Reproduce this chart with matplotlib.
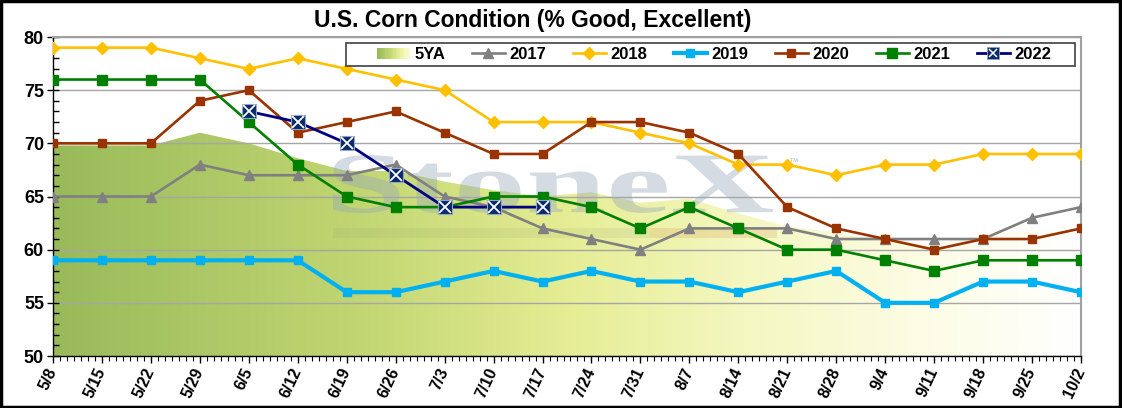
import numpy as np
import matplotlib
matplotlib.use("Agg")
import matplotlib.pyplot as plt
from matplotlib.colors import LinearSegmentedColormap
from matplotlib.patches import Rectangle, PathPatch
from matplotlib.lines import Line2D
from matplotlib.legend_handler import HandlerBase, HandlerTuple
from matplotlib.textpath import TextPath
from matplotlib.font_manager import FontProperties
from matplotlib.transforms import Affine2D

plt.rcParams['font.family'] = ['Liberation Sans', 'DejaVu Sans']

weeks = ["5/8", "5/15", "5/22", "5/29", "6/5", "6/12", "6/19", "6/26", "7/3", "7/10", "7/17",
         "7/24", "7/31", "8/7", "8/14", "8/21", "8/28", "9/4", "9/11", "9/18", "9/25", "10/2"]
five_ya = [69.8, 69.8, 69.8, 71.0, 70.0, 68.6, 67.4, 67.4, 66.4, 65.6, 65.0,
           65.4, 64.4, 64.8, 63.4, 62.2, 61.6, 60.8, 60.4, 61.4, 61.8, 62.0]
y2017 = [65, 65, 65, 68, 67, 67, 67, 68, 65, 64, 62, 61, 60, 62, 62, 62, 61, 61, 61, 61, 63, 64]
y2018 = [79, 79, 79, 78, 77, 78, 77, 76, 75, 72, 72, 72, 71, 70, 68, 68, 67, 68, 68, 69, 69, 69]
y2019 = [59, 59, 59, 59, 59, 59, 56, 56, 57, 58, 57, 58, 57, 57, 56, 57, 58, 55, 55, 57, 57, 56]
y2020 = [70, 70, 70, 74, 75, 71, 72, 73, 71, 69, 69, 72, 72, 71, 69, 64, 62, 61, 60, 61, 61, 62]
y2021 = [76, 76, 76, 76, 72, 68, 65, 64, 64, 65, 65, 64, 62, 64, 62, 60, 60, 59, 58, 59, 59, 59]
y2022 = [None, None, None, None, 73, 72, 70, 67, 64, 64, 64,
         None, None, None, None, None, None, None, None, None, None, None]
y_ticks = [50, 55, 60, 65, 70, 75, 80]

W, H = 1122, 408
fig = plt.figure(figsize=(W / 100, H / 100), dpi=100)
fig.patch.set_facecolor('white')
ax = fig.add_axes([53 / W, 1 - 356 / H, (1081 - 53) / W, (356 - 37) / H])

x = np.arange(len(weeks))
ax.set_xlim(0, len(weeks) - 1)
ax.set_ylim(50, 80)

# gradient area for 5YA
cmap = LinearSegmentedColormap.from_list("g", [
    (0.0, (0.60, 0.73, 0.35)),
    (0.30, (0.76, 0.84, 0.45)),
    (0.50, (0.90, 0.93, 0.58)),
    (0.68, (0.96, 0.97, 0.76)),
    (0.85, (0.99, 0.99, 0.90)),
    (1.0, (1.0, 1.0, 1.0)),
])
grad = np.linspace(0, 1, 512).reshape(1, -1)
im = ax.imshow(grad, cmap=cmap, extent=[0, len(weeks) - 1, 50, 80], aspect='auto',
               origin='lower', zorder=0, interpolation='bilinear')
poly = ax.fill_between(x, 50, five_ya, facecolor='none', edgecolor='none')
clip = PathPatch(poly.get_paths()[0], transform=ax.transData, facecolor='none', edgecolor='none')
ax.add_patch(clip)
im.set_clip_path(clip)

# watermark
tp = TextPath((0, 0), "StoneX", size=1, prop=FontProperties(family='Liberation Serif', weight='bold'))
ext = tp.get_extents()
x0p, x1p, topp, basep = 333, 773, 155, 213
sx = (x1p - x0p) / ext.width
sy = (basep - topp) / ext.height
tr = (Affine2D().translate(-ext.x0, -ext.y0).scale(sx / W, sy / H)
      .translate(x0p / W, (H - basep) / H) + fig.transFigure)
wm = PathPatch(tp, transform=tr, facecolor=(0.58, 0.65, 0.73), edgecolor='none', alpha=0.40, zorder=1)
wm.set_clip_on(False)
ax.add_patch(wm)
ax.add_patch(Rectangle((333 / W, 1 - 238 / H), (650 - 333) / W, 10 / H, transform=fig.transFigure,
                       facecolor=(0.55, 0.58, 0.45), alpha=0.12, edgecolor='none', zorder=1))
ax.add_patch(Rectangle((650 / W, 1 - 238 / H), (777 - 650) / W, 10 / H, transform=fig.transFigure,
                       facecolor=(0.85, 0.62, 0.35), alpha=0.25, edgecolor='none', zorder=1))
ax.text(788 / W, 1 - 165 / H, "™", transform=fig.transFigure, fontsize=7, color=(0.72, 0.75, 0.79), zorder=1)

# series
l17, = ax.plot(x, y2017, color='#808080', lw=1.9, marker='^', ms=6.5, zorder=3)
l18, = ax.plot(x, y2018, color='#FFC000', lw=1.9, marker='D', ms=6, zorder=3)
l19, = ax.plot(x, y2019, color='#00B0F0', lw=3.0, marker='s', ms=6, zorder=3)
l20, = ax.plot(x, y2020, color='#993300', lw=1.9, marker='s', ms=5.5, zorder=4)
l21, = ax.plot(x, y2021, color='#008000', lw=1.9, marker='s', ms=6.5, zorder=4)
y22 = np.array([np.nan if v is None else v for v in y2022], dtype=float)
l22a, = ax.plot(x, y22, color='#000080', lw=2.0, marker='s', ms=10.5, mfc='#0A2A6A',
                mec='#8FA6C8', mew=0.8, zorder=5)
l22b, = ax.plot(x, y22, color='none', lw=0, marker='x', ms=8, mec='white', mew=1.3, zorder=6)

# axes styling
ax.set_yticks(y_ticks)
ax.set_yticks(np.arange(50, 81, 1), minor=True)
ax.set_xticks(x)
ax.set_xticks(np.arange(0, len(weeks) - 1 + 1e-9, 1 / 7), minor=True)
ax.set_yticklabels([str(v) for v in y_ticks], fontsize=13, fontweight='bold')
ax.set_xticklabels(weeks, fontsize=11.5, fontweight='bold', rotation=65, ha='right', va='center',
                   rotation_mode='anchor')
ax.tick_params(axis='y', which='major', direction='inout', length=9, width=1, pad=2)
ax.tick_params(axis='y', which='minor', direction='in', length=4, width=1)
ax.tick_params(axis='x', which='major', direction='out', length=5, width=1, pad=4)
ax.tick_params(axis='x', which='minor', direction='out', length=3.5, width=0.8)
ax.yaxis.grid(True, which='major', color='#A6A6A6', lw=1.0)
for s in ['left', 'bottom']:
    ax.spines[s].set_color('black')
    ax.spines[s].set_linewidth(1.0)
for s in ['top', 'right']:
    ax.spines[s].set_color('#A0A0A0')
    ax.spines[s].set_linewidth(1.5)

# title
fig.text(533 / W, 1 - 20.5 / H, "U.S. Corn Condition (% Good, Excellent)", ha='center', va='center',
         fontsize=16.5, fontweight='bold')


# legend
class GradHandler(HandlerBase):
    def create_artists(self, legend, orig_handle, xdescent, ydescent, width, height, fontsize, trans):
        n = 24
        arts = []
        h = height * 0.95
        y0 = -ydescent + (height - h) / 2
        for i in range(n):
            c = cmap(0.0 + 0.75 * i / (n - 1))
            arts.append(Rectangle((-xdescent + width * i / n, y0), width / n + 0.3, h,
                                  facecolor=c, edgecolor='none', transform=trans))
        return arts


grad_handle = Rectangle((0, 0), 1, 1)
h17 = Line2D([], [], color='#808080', lw=1.9, marker='^', ms=6.5)
h18 = Line2D([], [], color='#FFC000', lw=1.9, marker='D', ms=6)
h19 = Line2D([], [], color='#00B0F0', lw=3.0, marker='s', ms=6)
h20 = Line2D([], [], color='#993300', lw=1.9, marker='s', ms=5.5)
h21 = Line2D([], [], color='#008000', lw=1.9, marker='s', ms=6.5)
h22a = Line2D([], [], color='#000080', lw=2.0, marker='s', ms=8, mfc='#0A2A6A', mec='#8FA6C8', mew=0.6)
h22b = Line2D([], [], color='none', lw=0, marker='x', ms=6, mec='white', mew=1.1)
leg = fig.legend([grad_handle, h17, h18, h19, h20, h21, (h22a, h22b)],
                 ["5YA", "2017", "2018", "2019", "2020", "2021", "2022"],
                 handler_map={grad_handle: GradHandler(), tuple: HandlerTuple(ndivide=1)},
                 loc='center left', bbox_to_anchor=(377 / W, 1 - 54.5 / H), ncol=7,
                 frameon=False, borderpad=0, borderaxespad=0, handlelength=1.95,
                 handletextpad=0.3, columnspacing=1.6, numpoints=1,
                 prop={'size': 12, 'weight': 'bold'})
fig.add_artist(Rectangle((346 / W, 1 - 66 / H), (1075 - 346) / W, 23 / H, transform=fig.transFigure,
                         facecolor='white', edgecolor='#404040', lw=1.2, zorder=0.5))
leg.set_zorder(10)

# outer frame
fig.add_artist(Rectangle((0.001, 0.002), 0.997, 0.996, transform=fig.transFigure, fill=False,
                         edgecolor='black', lw=2.5))

fig.savefig("out.png", dpi=100)
